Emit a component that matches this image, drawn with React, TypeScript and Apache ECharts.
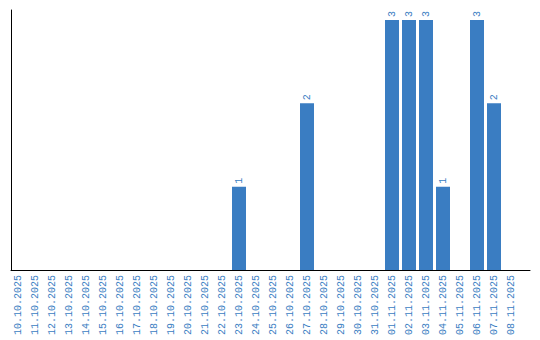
import React, { useEffect, useRef } from "react";
import * as echarts from "echarts";

const categories: string[] = [
  "10.10.2025", "11.10.2025", "12.10.2025", "13.10.2025", "14.10.2025",
  "15.10.2025", "16.10.2025", "17.10.2025", "18.10.2025", "19.10.2025",
  "20.10.2025", "21.10.2025", "22.10.2025", "23.10.2025", "24.10.2025",
  "25.10.2025", "26.10.2025", "27.10.2025", "28.10.2025", "29.10.2025",
  "30.10.2025", "31.10.2025", "01.11.2025", "02.11.2025", "03.11.2025",
  "04.11.2025", "05.11.2025", "06.11.2025", "07.11.2025", "08.11.2025",
];

const values: (number | null)[] = [
  null, null, null, null, null,
  null, null, null, null, null,
  null, null, null, 1, null,
  null, null, 2, null, null,
  null, null, 3, 3, 3,
  1, null, 3, 2, null,
];

const BLUE = "#3a7dc2";
const FONT = "'Liberation Mono', 'DejaVu Sans Mono', monospace";

export default function App() {
  const ref = useRef<HTMLDivElement>(null);
  useEffect(() => {
    document.body.style.margin = "0";
    if (!ref.current) return;
    const chart = echarts.init(ref.current, undefined, { renderer: "svg" });
    chart.setOption({
      animation: false,
      grid: [
        { left: 11, right: 10, top: 10, bottom: 70 },
        { left: 9.5, width: 510, top: 10, bottom: 70 },
      ],
      xAxis: [
        {
          type: "value",
          gridIndex: 0,
          min: 0,
          max: 1,
          axisLine: { show: true, onZero: false, lineStyle: { color: "#000", width: 1 } },
          axisTick: { show: false },
          axisLabel: { show: false },
          splitLine: { show: false },
        },
        {
          type: "category",
          gridIndex: 1,
          data: categories,
          axisLine: { show: false },
          axisTick: { show: false },
          axisLabel: {
            rotate: 90,
            interval: 0,
            margin: 5,
            color: BLUE,
            fontFamily: FONT,
            fontSize: 10,
          },
          splitLine: { show: false },
        },
      ],
      yAxis: [
        {
          type: "value",
          gridIndex: 0,
          min: 0,
          max: 1,
          axisLine: { show: true, onZero: false, lineStyle: { color: "#000", width: 1 } },
          axisTick: { show: false },
          axisLabel: { show: false },
          splitLine: { show: false },
        },
        {
          type: "value",
          gridIndex: 1,
          min: 0,
          max: 3.12,
          show: false,
          splitLine: { show: false },
        },
      ],
      series: [
        {
          type: "bar",
          xAxisIndex: 1,
          yAxisIndex: 1,
          data: values,
          barWidth: 14,
          itemStyle: { color: BLUE },
          label: {
            show: true,
            position: "top",
            rotate: 90,
            align: "left",
            verticalAlign: "middle",
            distance: 3,
            color: BLUE,
            fontFamily: FONT,
            fontSize: 10,
          },
        },
      ],
    });
    return () => chart.dispose();
  }, []);
  return <div ref={ref} style={{ width: 540, height: 340 }} />;
}
